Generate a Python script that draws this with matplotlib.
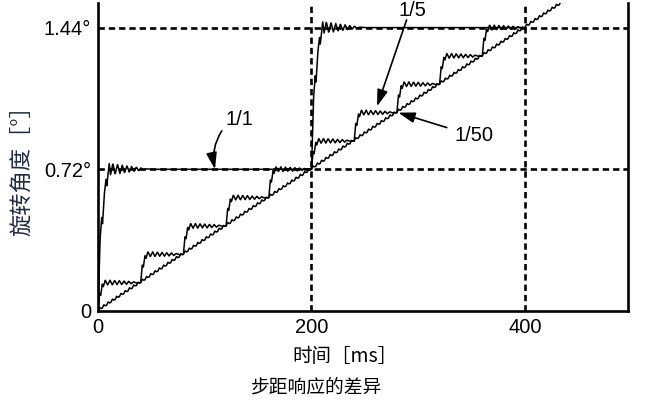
import numpy as np
import matplotlib
matplotlib.use('Agg')
import matplotlib.pyplot as plt

# step schedules (ms) and step size (deg) per drive mode
events_1_1 = [0, 200]
events_1_5 = [0, 40, 80, 120, 160, 200, 240, 280, 320, 360]
pulse_ms_1_50 = 4
size_1_1 = 0.72
size_1_5 = 0.144
size_1_50 = 0.0144

# single-step response shapes (ms, fraction of step)
shape_t_1_1 = [0, 2, 3.5, 4.2, 6, 7.5, 8.2, 10.5, 11.7, 13.9, 16.1, 18.3, 20.5, 22.7, 24.9,
               27.1, 29.3, 31.5, 33.7, 35.9, 38.1, 40.3, 42.5, 45, 50]
shape_f_1_1 = [0, 0.51, 0.66, 0.61, 0.83, 0.93, 0.88, 1.04, 0.96, 1.04, 0.965, 1.035, 0.97, 1.03, 0.975,
               1.025, 0.98, 1.02, 0.985, 1.015, 0.99, 1.01, 0.995, 1.003, 1.0]
shape_t_1_5 = [0, 1.5, 2.5, 4, 5, 6.8, 9, 11.2, 13.4, 15.6, 17.8, 20, 22.2, 24.4,
               26.6, 28.8, 31, 33.2, 36, 39]
shape_f_1_5 = [0, 0.62, 0.55, 0.95, 0.86, 1.09, 0.92, 1.09, 0.92, 1.08, 0.93, 1.07, 0.93, 1.06,
               0.94, 1.05, 0.96, 1.03, 0.99, 1.0]
shape_t_1_50 = [0, 1.5, 2.8, 4]
shape_f_1_50 = [0, 1.2, 0.85, 1.0]

x_ticks = [0, 200, 400]
y_ticks = [0, 0.72, 1.44]
y_ticklabels = ['0', '0.72°', '1.44°']


def response(t, events, size, st, sf):
    y = np.zeros_like(t)
    for e in events:
        y += size * np.interp(t - e, st, sf, left=0, right=1)
    return y


plt.rcParams['font.family'] = ['Liberation Sans', 'Noto Sans CJK SC', 'DejaVu Sans']
cjk = ['Noto Sans CJK SC', 'DejaVu Sans']

t1 = np.arange(0, 400.001, 0.25)
t2 = np.arange(0, 440.001, 0.25)
y_1_1 = response(t1, events_1_1, size_1_1, shape_t_1_1, shape_f_1_1)
y_1_5 = response(t1, events_1_5, size_1_5, shape_t_1_5, shape_f_1_5)
y_1_50 = response(t2, list(range(0, 440, pulse_ms_1_50)), size_1_50, shape_t_1_50, shape_f_1_50)

fig = plt.figure(figsize=(6.48, 4.09), dpi=100)
ax = fig.add_axes([98 / 648, 1 - 311 / 409, 530 / 648, 308 / 409])

dash = dict(color='black', lw=1.9, dashes=(2.4, 1.5))
for yv in [0.72, 1.44]:
    ax.axhline(yv, **dash)
for xv in [200, 400]:
    ax.axvline(xv, **dash)

ax.plot(t1, y_1_1, color='black', lw=1.1)
ax.plot(t1, y_1_5, color='black', lw=1.1)
ax.plot(t2, y_1_50, color='black', lw=1.1)

ax.set_xlim(0, 496.5)
ax.set_ylim(0.01, 1.565)
ax.spines['top'].set_visible(False)
for s in ['left', 'right', 'bottom']:
    ax.spines[s].set_linewidth(1.9)
ax.set_xticks(x_ticks)
ax.set_yticks(y_ticks)
ax.set_yticklabels(y_ticklabels)
ax.tick_params(length=0, labelsize=14.5, pad=5)

# annotations
arrow = dict(arrowstyle='-|>,head_length=1.0,head_width=0.32', color='black', lw=1.2,
             shrinkA=0, shrinkB=0)
ax.text(132.6, 0.974, '1/1', fontsize=14.5, ha='center', va='center')
ax.annotate('', xy=(109.6, 0.72), xytext=(115.9, 0.915),
            arrowprops=dict(connectionstyle='arc3,rad=0.2', **arrow))
fig.text(412 / 648, 1 - 1 / 409, '1/5', fontsize=14.5, ha='center', va='top')
ax.annotate('', xy=(261.4, 1.04), xytext=(289.1, 1.479), arrowprops=arrow)
ax.text(352.2, 0.893, '1/50', fontsize=14.5, ha='center', va='center')
ax.annotate('', xy=(281.3, 1.008), xytext=(326.7, 0.932), arrowprops=arrow)

fig.text(345 / 648, 1 - 356 / 409, '时间［ms］', fontsize=14, ha='center', va='center', family=cjk)
fig.text(22 / 648, 1 - 165 / 409, '旋转角度［°］', fontsize=16, ha='center', va='center',
         rotation=90, color='#1f2a44', family=cjk)
fig.text(316 / 648, 1 - 387 / 409, '步距响应的差异', fontsize=13.5, ha='center', va='center', family=cjk)

fig.savefig('out.png', dpi=100)
